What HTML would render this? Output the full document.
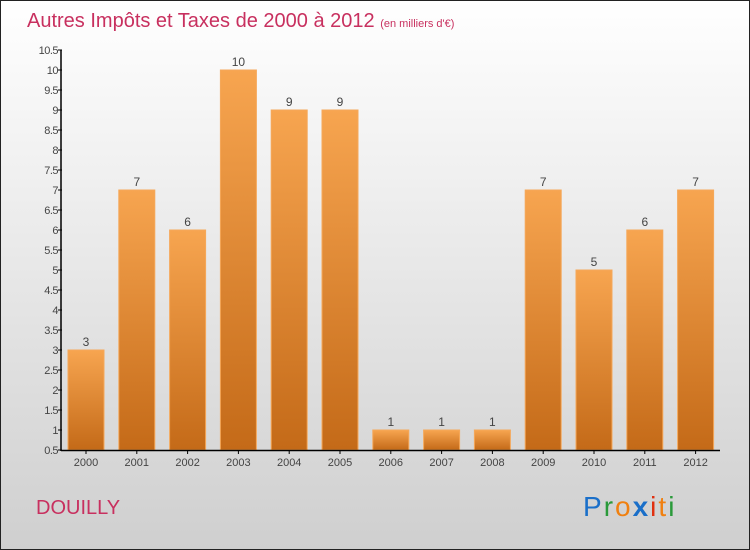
<!DOCTYPE html>
<html><head><meta charset="utf-8"><style>
body{margin:0}
svg{display:block;font-family:"Liberation Sans",sans-serif}
</style></head><body>
<svg id="c" width="750" height="550">
<defs>
<linearGradient id="bg" x1="0" y1="0" x2="0" y2="1"><stop offset="0" stop-color="#ffffff"/><stop offset="1" stop-color="#cfcfcf"/></linearGradient>
<linearGradient id="bar" x1="0" y1="0" x2="0" y2="1"><stop offset="0" stop-color="#f7a550"/><stop offset="1" stop-color="#c46a18"/></linearGradient>
</defs>
<rect x="0.5" y="0.5" width="749" height="549" fill="url(#bg)" stroke="#222"/>
<text x="27" y="27" font-size="20" fill="#c8305f">Autres Impôts et Taxes de 2000 à 2012 <tspan font-size="11">(en milliers d'€)</tspan></text>
<text x="36" y="514" font-size="20" fill="#c8305f">DOUILLY</text>
<g font-size="28" font-family="'Liberation Sans',sans-serif">
<text x="583" y="516" letter-spacing="2"><tspan fill="#1a6fc9">P</tspan><tspan fill="#2a9a3a">r</tspan><tspan fill="#f08010">o</tspan><tspan fill="#1a6fc9" font-weight="bold">x</tspan><tspan fill="#e03010">i</tspan><tspan fill="#f08010">t</tspan><tspan fill="#2a9a3a">i</tspan></text>
</g>
<g id="plot"></g>
</svg>
<script>
const categories=["2000","2001","2002","2003","2004","2005","2006","2007","2008","2009","2010","2011","2012"];
const values=[3,7,6,10,9,9,1,1,1,7,5,6,7];
const yTicks=[0.5,1,1.5,2,2.5,3,3.5,4,4.5,5,5.5,6,6.5,7,7.5,8,8.5,9,9.5,10,10.5];
const NS="http://www.w3.org/2000/svg";
const g=document.getElementById('plot');
const y=v=>450-(v-0.5)*40;
const xc=i=>86+i*50.8;
function mk(t,a,txt){const e=document.createElementNS(NS,t);for(const k in a)e.setAttribute(k,a[k]);if(txt!=null)e.textContent=txt;g.appendChild(e);return e;}
categories.forEach((c,i)=>{
 const r=mk('rect',{x:xc(i)-18,y:y(values[i]),width:36,height:450-y(values[i]),fill:'url(#bar)',stroke:'#f5a85a','stroke-width':1});
 
 
 const v=mk('text',{x:xc(i),y:y(values[i])-4,'font-size':12,fill:'#444','text-anchor':'middle'},String(values[i]));
 
 
 const l=mk('text',{x:xc(i),y:466,'font-size':11,fill:'#444','text-anchor':'middle'},c);
 
 
 const tk=mk('line',{x1:xc(i),x2:xc(i),y1:450,y2:454,stroke:'#000'});
 
 
});
yTicks.forEach(t=>{
 const tk=mk('line',{x1:58,x2:62,y1:y(t),y2:y(t),stroke:'#000'});
 
 
 const l=mk('text',{x:58,y:y(t)+4,'font-size':11,fill:'#444','text-anchor':'end','letter-spacing':'-0.5'},String(t));
 
 
});
const ya=mk('line',{x1:61,x2:61,y1:50,y2:451,stroke:'#000','stroke-width':1.5});


const xa=mk('line',{x1:61,x2:720,y1:450.5,y2:450.5,stroke:'#000','stroke-width':1.5});


</script>
</body></html>
